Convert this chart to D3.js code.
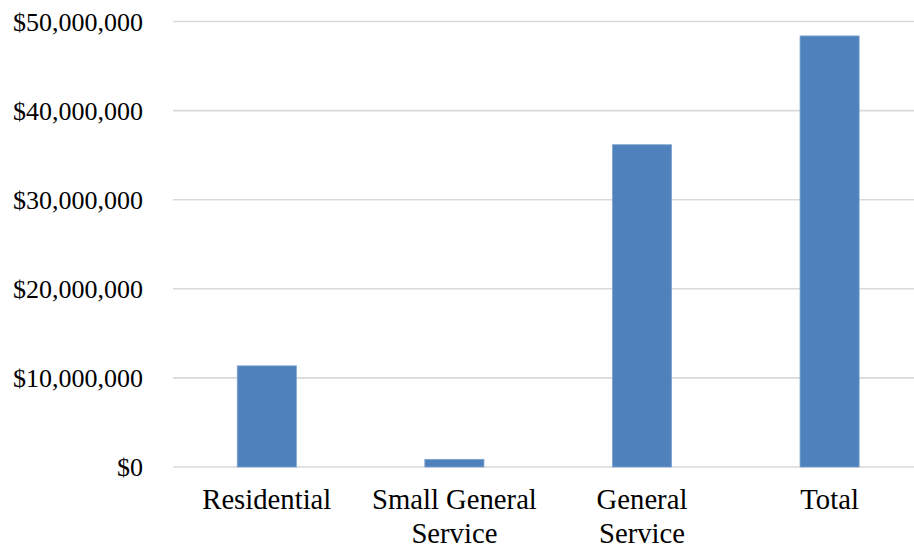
<!DOCTYPE html>
<html>
<head>
<meta charset="utf-8">
<script src="https://cdn.jsdelivr.net/npm/d3@7"></script>
<style>
  html, body { margin: 0; padding: 0; background: #fff; overflow: hidden; }
  svg { display: block; }
</style>
</head>
<body>
<svg id="chart" width="914" height="548"></svg>
<script>
// Revenue by customer class
const categories = [["Residential"], ["Small General", "Service"], ["General", "Service"], ["Total"]];
const values = [11350000, 860000, 36170000, 48380000];
const yTicks = [0, 10000000, 20000000, 30000000, 40000000, 50000000];

const FONT = "'Liberation Serif', 'Times New Roman', Times, serif";

const svg = d3.select("#chart");
const margin = { left: 173, top: 21.5, bottom: 467 };
const plotRight = 923.4;

const x = d3.scaleBand()
  .domain(d3.range(categories.length))
  .range([margin.left, plotRight])
  .paddingInner(0.685)
  .paddingOuter(0.3425);

const y = d3.scaleLinear()
  .domain([0, 50000000])
  .range([margin.bottom, margin.top]);

const fmt = v => "$" + d3.format(",")(v);

// Horizontal gridlines
svg.append("g")
  .selectAll("line")
  .data(yTicks)
  .join("line")
  .attr("x1", margin.left)
  .attr("x2", plotRight)
  .attr("y1", d => y(d))
  .attr("y2", d => y(d))
  .attr("stroke", "#d9d9d9")
  .attr("stroke-width", 1.6);

// Y axis labels
const yAxis = d3.axisLeft(y).tickValues(yTicks).tickFormat(fmt).tickSize(0).tickPadding(30);
const gy = svg.append("g").attr("transform", `translate(${margin.left},0)`).call(yAxis);
gy.attr("font-family", null).attr("font-size", null);
gy.select(".domain").remove();
gy.selectAll("text")
  .attr("dy", "0.33em")
  .style("font-family", FONT)
  .style("font-size", "26px")
  .style("fill", "#000");

// Bars
svg.append("g")
  .selectAll("rect")
  .data(values)
  .join("rect")
  .attr("x", (d, i) => x(i))
  .attr("width", x.bandwidth())
  .attr("y", d => y(d))
  .attr("height", d => y(0) - y(d))
  .attr("fill", "#4f81bd")
  .attr("stroke", "#7ea2d0")
  .attr("stroke-width", 0.8);

// Category labels (wrapped onto two lines where needed)
const labels = svg.append("g")
  .selectAll("text")
  .data(categories)
  .join("text")
  .attr("text-anchor", "middle")
  .style("font-family", FONT)
  .style("font-size", "28.7px")
  .style("fill", "#000")
  .attr("x", (d, i) => x(i) + x.bandwidth() / 2)
  .attr("y", 508.5);

labels.selectAll("tspan")
  .data(d => d)
  .join("tspan")
  .attr("x", function () { return d3.select(this.parentNode).attr("x"); })
  .attr("dy", (d, i) => i === 0 ? 0 : 34.3)
  .text(d => d);
</script>
</body>
</html>
